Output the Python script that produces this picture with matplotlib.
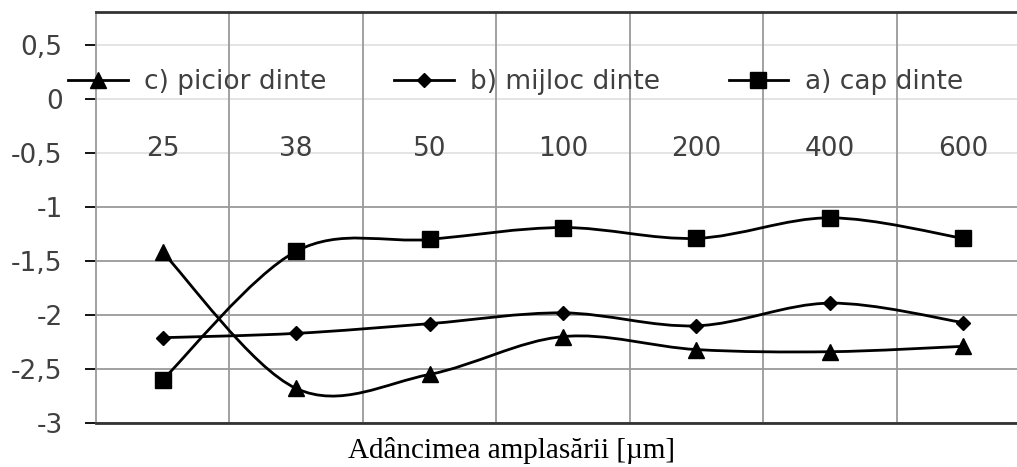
import numpy as np
import matplotlib
matplotlib.use("Agg")
import matplotlib.pyplot as plt
from matplotlib.path import Path
from matplotlib.patches import PathPatch
from matplotlib.lines import Line2D

# data
categories = ["25", "38", "50", "100", "200", "400", "600"]
picior = [-1.42, -2.68, -2.55, -2.20, -2.32, -2.34, -2.29]
mijloc = [-2.21, -2.17, -2.08, -1.98, -2.10, -1.89, -2.07]
cap = [-2.60, -1.41, -1.30, -1.19, -1.29, -1.10, -1.29]
yticks = [0.5, 0, -0.5, -1, -1.5, -2, -2.5, -3]

plt.rcParams["font.family"] = ["DejaVu Sans"]
FS = 19


def smooth_path(x, y):
    # Excel-like smoothed line: Catmull-Rom converted to cubic Bezier
    pts = np.column_stack([x, y])
    ext = np.vstack([pts[0], pts, pts[-1]])
    verts = [pts[0]]
    codes = [Path.MOVETO]
    for i in range(len(pts) - 1):
        p0, p1, p2, p3 = ext[i], ext[i + 1], ext[i + 2], ext[i + 3]
        c1 = p1 + (p2 - p0) / 6.0
        c2 = p2 - (p3 - p1) / 6.0
        verts += [c1, c2, p2]
        codes += [Path.CURVE4] * 3
    return Path(verts, codes)


fig = plt.figure(figsize=(10.17, 4.67), dpi=100)
ax = fig.add_axes([96 / 1017, 44 / 467, 934 / 1017, 411 / 467])

xpos = np.arange(len(categories)) + 0.5
ax.set_xlim(0, len(categories))
ax.set_ylim(-3, 0.806)

# grid
for yv in yticks:
    col = "#e2e2e2" if yv >= -0.5 else "#9a9a9a"
    ax.axhline(yv, color=col, lw=1.3, zorder=1)
for xv in range(1, len(categories)):
    ax.axvline(xv, color="#9a9a9a", lw=1.3, zorder=1)

series = [
    (picior, "^", 11, "c) picior dinte"),
    (mijloc, "D", 7.5, "b) mijloc dinte"),
    (cap, "s", 12, "a) cap dinte"),
]
handles = []
for vals, mk, ms, lab in series:
    ax.add_patch(PathPatch(smooth_path(xpos, vals), fill=False,
                           edgecolor="black", lw=2, zorder=3))
    ax.plot(xpos, vals, ls="none", marker=mk, ms=ms, color="black",
            zorder=4)
    handles.append(Line2D([0], [0], color="black", lw=2, marker=mk,
                          ms=ms, label=lab))

# category labels sit below the zero line
for xp, c in zip(xpos, categories):
    ax.text(xp, -0.46, c, ha="center", va="center", fontsize=FS,
            color="#404040")

ax.set_xticks([])
ax.set_yticks(yticks)
ax.set_yticklabels([f"{v:g}".replace(".", ",") for v in yticks],
                   fontsize=FS, color="#404040")
ax.tick_params(axis="y", length=8, width=1.3, pad=16)
for t, yv in zip(ax.yaxis.get_major_ticks(), yticks):
    t.tick1line.set_color("#e2e2e2" if yv >= -0.5 else "#9a9a9a")

ax.spines["left"].set_color("#9a9a9a")
ax.spines["left"].set_linewidth(1.3)
ax.spines["right"].set_visible(False)
for s in ("top", "bottom"):
    ax.spines[s].set_color("#333333")
    ax.spines[s].set_linewidth(2)

fig.legend(handles=handles, loc="center left",
           bbox_to_anchor=(68 / 1017, 1 - 82 / 467), ncol=3,
           frameon=False, fontsize=FS, handlelength=2.27,
           handletextpad=0.61, columnspacing=2.58, borderpad=0,
           borderaxespad=0, labelcolor="#404040")

fig.text(511 / 1017, 1 - 450 / 467, "Adâncimea amplasării [µm]",
         ha="center", va="center", fontsize=21,
         family=["Liberation Serif", "DejaVu Serif"])

fig.savefig("out.png", dpi=100)
